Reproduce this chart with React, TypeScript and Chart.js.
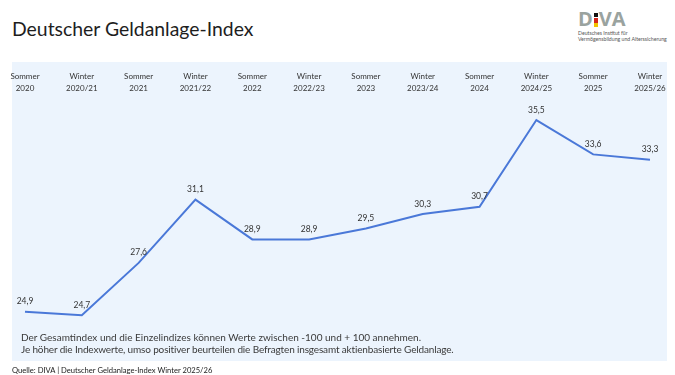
import React, { useEffect, useRef } from "react";
import { Chart, registerables } from "chart.js";

Chart.register(...registerables);

const categories: string[][] = [
  ["Sommer", "2020"],
  ["Winter", "2020/21"],
  ["Sommer", "2021"],
  ["Winter", "2021/22"],
  ["Sommer", "2022"],
  ["Winter", "2022/23"],
  ["Sommer", "2023"],
  ["Winter", "2023/24"],
  ["Sommer", "2024"],
  ["Winter", "2024/25"],
  ["Sommer", "2025"],
  ["Winter", "2025/26"],
];

const indexValues: number[] = [24.9, 24.7, 27.6, 31.1, 28.9, 28.9, 29.5, 30.3, 30.7, 35.5, 33.6, 33.3];

const noteLines: string[] = [
  "Der Gesamtindex und die Einzelindizes können Werte zwischen -100 und + 100 annehmen.",
  "Je höher die Indexwerte, umso positiver beurteilen die Befragten insgesamt aktienbasierte Geldanlage.",
];

const FONT = "Lato, 'Open Sans', sans-serif";

const valueLabelPlugin = {
  id: "valueLabels",
  afterDatasetsDraw(chart: any) {
    const ctx = chart.ctx;
    const meta = chart.getDatasetMeta(0);
    ctx.save();
    ctx.font = `8.5px ${FONT}`;
    ctx.fillStyle = "#333333";
    ctx.textAlign = "center";
    ctx.textBaseline = "bottom";
    meta.data.forEach((pt: any, i: number) => {
      const v = chart.data.datasets[0].data[i] as number;
      const txt = v.toFixed(1).replace(".", ",");
      ctx.fillText(txt, pt.x, pt.y - 6);
    });
    ctx.restore();
  },
};

export default function App() {
  const ref = useRef<HTMLCanvasElement | null>(null);

  useEffect(() => {
    if (!ref.current) return;
    const chart = new Chart(ref.current, {
      type: "line",
      data: {
        labels: categories,
        datasets: [
          {
            data: indexValues,
            borderColor: "#4a78d8",
            borderWidth: 2,
            pointRadius: 0,
            tension: 0,
            fill: false,
          },
        ],
      },
      options: {
        animation: false,
        responsive: false,
        maintainAspectRatio: false,
        layout: { padding: { left: 25, right: 25, top: 0, bottom: 34 } },
        plugins: { legend: { display: false }, tooltip: { enabled: false } },
        scales: {
          x: {
            position: "top",
            offset: false,
            grid: { display: false, drawTicks: false },
            border: { display: false },
            ticks: {
              autoSkip: false,
              maxRotation: 0,
              padding: 17,
              color: "#333333",
              font: { family: FONT, size: 8, lineHeight: 1.45 },
            },
            afterFit: (scale: any) => {
              scale.height = 49;
              scale.paddingLeft = 0;
              scale.paddingRight = 0;
            },
          },
          y: {
            display: false,
            min: 24,
            max: 36,
          },
        },
      },
      plugins: [valueLabelPlugin],
    });
    return () => chart.destroy();
  }, []);

  return (
    <div
      style={{
        position: "fixed",
        left: 0,
        top: 0,
        width: 675,
        height: 375,
        background: "#ffffff",
        overflow: "hidden",
        fontFamily: FONT,
      }}
    >
      <div
        style={{
          position: "absolute",
          left: 12,
          top: 15,
          fontSize: 19.4,
          color: "#1e1e1e",
          lineHeight: "28px",
          whiteSpace: "nowrap",
        }}
      >
        Deutscher Geldanlage-Index
      </div>

      <div style={{ position: "absolute", left: 578, top: 7, width: 95 }}>
        <div
          style={{
            fontFamily: "'Open Sans', sans-serif",
            fontWeight: 700,
            fontSize: 20,
            lineHeight: "23px",
            color: "#9aa39f",
            display: "flex",
            alignItems: "center",
          }}
        >
          <span>D</span>
          <span
            style={{
              display: "inline-flex",
              flexDirection: "column",
              margin: "3px 1px 0 1px",
              height: 14,
              justifyContent: "space-between",
            }}
          >
            <span style={{ width: 4, height: 4, background: "#111" }} />
            <span style={{ width: 4, height: 5, background: "#d5261c" }} />
            <span style={{ width: 4, height: 4, background: "#f2c300" }} />
          </span>
          <span>VA</span>
        </div>
        <div style={{ fontSize: 5.2, lineHeight: "6px", color: "#555", whiteSpace: "nowrap" }}>
          Deutsches Institut für
          <br />
          Vermögensbildung und Alterssicherung
        </div>
      </div>

      <div
        style={{
          position: "absolute",
          left: 12,
          top: 62,
          width: 655,
          height: 299,
          background: "#ecf4fd",
        }}
      />
      <canvas
        ref={ref}
        width={675}
        height={300}
        style={{ position: "absolute", left: 0, top: 62, width: 675, height: 300 }}
      />

      <div
        style={{
          position: "absolute",
          left: 21,
          top: 331,
          fontSize: 10,
          lineHeight: "12px",
          color: "#3a3a3a",
          whiteSpace: "nowrap",
        }}
      >
        {noteLines.map((l, i) => (
          <div key={i} style={{ letterSpacing: i === 1 ? -0.15 : 0 }}>
            {l}
          </div>
        ))}
      </div>

      <div
        style={{
          position: "absolute",
          left: 12,
          top: 365,
          fontSize: 7.6,
          lineHeight: "10px",
          color: "#222",
          whiteSpace: "nowrap",
        }}
      >
        Quelle: DIVA | Deutscher Geldanlage-Index Winter 2025/26
      </div>
    </div>
  );
}
